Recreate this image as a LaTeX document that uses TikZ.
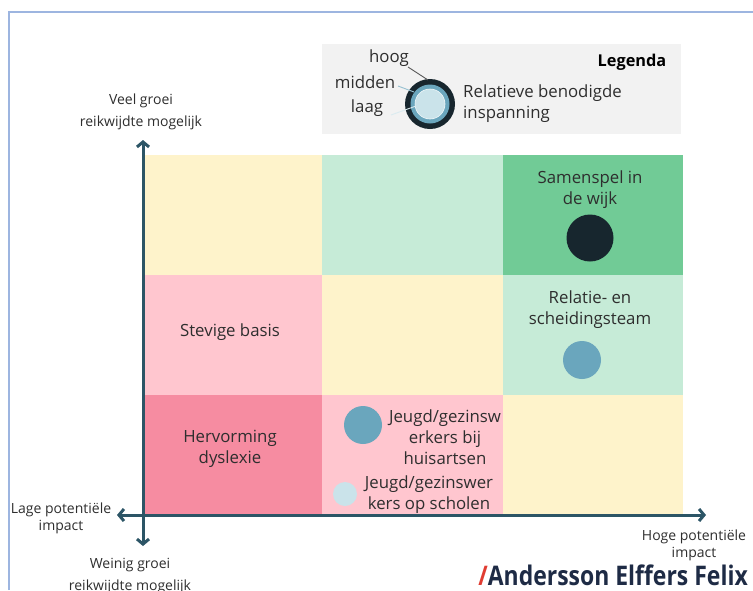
\documentclass[tikz,border=0pt]{standalone}
\usepackage{fontspec}
\setmainfont{Open Sans}
\usetikzlibrary{arrows.meta}
\definecolor{cyel}{HTML}{FEF3CB}
\definecolor{clgreen}{HTML}{C6EBD7}
\definecolor{cgreen}{HTML}{71CB96}
\definecolor{cpink}{HTML}{FFC6CF}
\definecolor{cdpink}{HTML}{F68CA1}
\definecolor{caxis}{HTML}{2C5566}
\definecolor{cdark}{HTML}{17262E}
\definecolor{cteal}{HTML}{6AA6BD}
\definecolor{clight}{HTML}{CAE3EA}
\definecolor{cleg}{HTML}{F2F2F2}
\definecolor{ctext}{HTML}{2E2E2E}
\definecolor{cframe}{HTML}{9DB5E0}
\definecolor{cnavy}{HTML}{1E2B45}
\definecolor{cred}{HTML}{E03C31}
\tikzset{
  celltext/.style={align=center,text=ctext,font=\fontsize{16.8}{21}\selectfont,inner sep=0pt},
  axlabel/.style={align=center,text=ctext,font=\fontsize{14}{21.5}\selectfont,inner sep=0pt},
  axlabelb/.style={align=center,text=ctext,font=\fontsize{14}{17}\selectfont,inner sep=0pt},
  axisline/.style={draw=caxis,line width=3pt,{Straight Barb[length=5pt,width=12pt]}-{Straight Barb[length=5pt,width=12pt]}},
  leglabel/.style={text=ctext,font=\fontsize{16.8}{21}\selectfont,inner sep=0pt},
}
\begin{document}
\begin{tikzpicture}[x=1pt,y=-1pt]
\useasboundingbox (0,0) rectangle (753,590);
\clip (0,0) rectangle (753,590);
% frame
\draw[cframe,line width=1.2pt] (9,590) -- (9,12) -- (753,12);
% cells
\fill[cyel]    (143,155) rectangle (322,275);
\fill[clgreen] (322,155) rectangle (503,275);
\fill[cgreen]  (503,155) rectangle (683,275);
\fill[cpink]   (143,275) rectangle (322,395);
\fill[cyel]    (322,275) rectangle (503,395);
\fill[clgreen] (503,275) rectangle (683,395);
\fill[cdpink]  (143,395) rectangle (322,514);
\fill[cpink]   (322,395) rectangle (503,514);
\fill[cyel]    (503,395) rectangle (683,514);
% axes
\coordinate (ytop) at (143,140);
\coordinate (ybot) at (143,546);
\coordinate (xleft) at (117,515);
\coordinate (xright) at (706,515);
\draw[axisline] (ybot) -- (ytop);
\draw[axisline] (xleft) -- (xright);
% axis labels
\node[axlabel] (veel) at (141,112) {Veel groei\\reikwijdte mogelijk};
\node[axlabel] (weinig) at (130,576) {Weinig groei\\reikwijdte mogelijk};
\node[axlabelb] (lage) at (61,518) {Lage potentiële\\impact};
\node[axlabelb] (hoge) at (694,545) {Hoge potentiële\\impact};
% cell texts and circles
\node[celltext] (samen) at (590,190) {Samenspel in\\de wijk};
\fill[cdark] (590,238) circle (23.5);
\node[celltext] (relatie) at (590,310) {Relatie- en\\scheidingsteam};
\fill[cteal] (582,360) circle (19);
\node[celltext] (stevig) at (230,332) {Stevige basis};
\node[celltext] (dyslexie) at (230,449) {Hervorming\\dyslexie};
\fill[cteal] (363,425) circle (19);
\node[celltext] (huisarts) at (445,437) {Jeugd/gezinsw\\erkers bij\\huisartsen};
\fill[clight] (345,494) circle (12);
\node[celltext] (scholen) at (429,495) {Jeugd/gezinswer\\kers op scholen};
% legend
\fill[cleg] (322,44) rectangle (681,134);
\node[font=\fontsize{16.3}{18}\selectfont\bfseries,text=black,inner sep=0pt] (legenda) at (632,62) {Legenda};
\fill[cdark] (430,104) circle (25);
\fill[cteal] (430,104) circle (19.5);
\fill[clight] (430,104) circle (15);
\draw[white!70!clight,line width=0.6pt] (430,104) circle (15);
\node[leglabel] (hoog) at (389,58) {hoog};
\node[leglabel] (midden) at (365,82) {midden};
\node[leglabel] (laag) at (367,108) {laag};
\coordinate (hoogA) at (408,67);
\coordinate (hoogB) at (428,80);
\coordinate (midA) at (398,86);
\coordinate (midB) at (414,92);
\coordinate (laagA) at (391,115);
\coordinate (laagB) at (416,106);
\draw[black!65,line width=0.9pt] (hoogA) -- (hoogB);
\draw[cteal!70,line width=0.9pt] (midA) -- (midB);
\draw[clight!70,line width=0.9pt] (laagA) -- (laagB);
\node[leglabel,align=left,anchor=west] (insp) at (463,104) {Relatieve benodigde\\inspanning};
% logo
\node[inner sep=0pt,anchor=base east,font=\fontsize{27}{27}\selectfont\bfseries] (logo) at (748,585)
  {\scalebox{0.85}[1]{\textcolor{cred}{/}\textcolor{cnavy}{Andersson Elffers Felix}}};
\end{tikzpicture}
\end{document}
